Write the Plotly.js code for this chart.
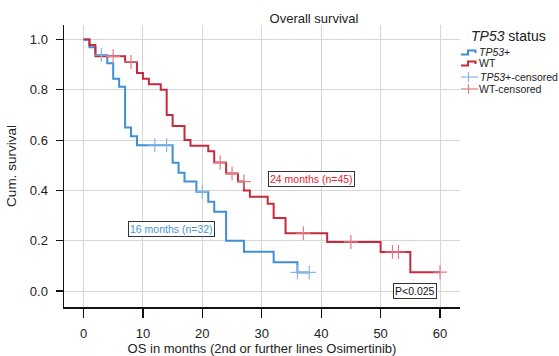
<!DOCTYPE html>
<html>
<head>
<meta charset="utf-8">
<script src="https://cdn.plot.ly/plotly-3.0.1.min.js"></script>
<style>html,body{margin:0;padding:0;background:#fff;}#chart{width:559px;height:356px;}</style>
</head>
<body>
<div id="chart"></div>
<script>
// ---- Data (Kaplan–Meier step curves) ----
const tp53Months   = [0, 1, 2, 4, 5, 6, 7, 8, 9, 15, 16, 17, 19, 21, 22, 24, 27, 32, 36, 38];
const tp53Survival = [1, 0.969, 0.938, 0.906, 0.844, 0.812, 0.65, 0.615, 0.58, 0.51, 0.47, 0.435, 0.395, 0.355, 0.315, 0.2, 0.156, 0.114, 0.074, 0.074];
const tp53CensorMonths   = [3, 12, 14, 20, 36, 38];
const tp53CensorSurvival = [0.938, 0.58, 0.58, 0.395, 0.074, 0.074];

const wtMonths   = [0, 1, 2, 7, 9, 10, 11, 13, 14, 15, 17, 18, 21, 22, 24, 26, 27, 28, 31, 32, 34, 41, 50, 55, 60];
const wtSurvival = [1, 0.978, 0.933, 0.911, 0.867, 0.844, 0.822, 0.8, 0.7, 0.656, 0.6, 0.578, 0.556, 0.511, 0.467, 0.435, 0.40, 0.375, 0.347, 0.29, 0.23, 0.195, 0.155, 0.075, 0.075];
const wtCensorMonths   = [5, 8, 23, 25, 27, 37, 45, 52, 53, 60];
const wtCensorSurvival = [0.933, 0.911, 0.511, 0.467, 0.435, 0.23, 0.195, 0.155, 0.155, 0.075];

const xTicks = [0, 10, 20, 30, 40, 50, 60];
const yTicks = [0, 0.2, 0.4, 0.6, 0.8, 1.0];
const yTickText = ['0.0', '0.2', '0.4', '0.6', '0.8', '1.0'];

const medianLabels = ['24 months (n=45)', '16 months (n=32)', 'P<0.025'];
const legendNames = ['<i>TP53</i>+', 'WT', '<i>TP53</i>+-censored', 'WT-censored'];

// ---- Styling ----
const BLUE = '#3f8fd6', RED = '#c62a3c';
const BLUE_L = '#86b7e6', RED_L = '#e07c88';
const FONT = 'Liberation Sans, Arial, Helvetica, sans-serif';

// plot area in pixels: x 64..460, y 25..307
const PL = 64, PR = 460, PT = 25, PB = 307;
const px = x => (x - PL) / (PR - PL);
const py = y => (PB - y) / (PB - PT);

const traces = [
  {x: tp53Months, y: tp53Survival, mode: 'lines', line: {shape: 'hv', color: BLUE, width: 2}, name: legendNames[0], showlegend: false, hoverinfo: 'skip'},
  {x: wtMonths, y: wtSurvival, mode: 'lines', line: {shape: 'hv', color: RED, width: 2}, name: legendNames[1], showlegend: false, hoverinfo: 'skip'},
  {x: tp53CensorMonths, y: tp53CensorSurvival, mode: 'markers', marker: {symbol: 'cross-thin-open', size: 10, color: BLUE_L, line: {color: BLUE_L, width: 1.2}}, name: legendNames[2], showlegend: false, hoverinfo: 'skip'},
  {x: wtCensorMonths, y: wtCensorSurvival, mode: 'markers', marker: {symbol: 'cross-thin-open', size: 10, color: RED_L, line: {color: RED_L, width: 1.2}}, name: legendNames[3], showlegend: false, hoverinfo: 'skip'}
];

// custom compact legend (positions in pixels -> paper)
const legendRows = [52.5, 63.5, 77, 89];
const shapes = [
  {type: 'path', xref: 'paper', yref: 'paper', layer: 'above',
   path: `M${px(461)},${py(54.5)} L${px(468)},${py(54.5)} L${px(468)},${py(50.5)} L${px(475.5)},${py(50.5)} L${px(475.5)},${py(53)}`,
   line: {color: BLUE, width: 2}},
  {type: 'path', xref: 'paper', yref: 'paper', layer: 'above',
   path: `M${px(461)},${py(65.5)} L${px(468)},${py(65.5)} L${px(468)},${py(61.5)} L${px(475.5)},${py(61.5)} L${px(475.5)},${py(64)}`,
   line: {color: RED, width: 2}},
  {type: 'line', xref: 'paper', yref: 'paper', x0: px(461), x1: px(478), y0: py(77), y1: py(77), line: {color: BLUE_L, width: 1.2}},
  {type: 'line', xref: 'paper', yref: 'paper', x0: px(468.5), x1: px(468.5), y0: py(72), y1: py(82), line: {color: BLUE_L, width: 1.2}},
  {type: 'line', xref: 'paper', yref: 'paper', x0: px(461), x1: px(478), y0: py(89), y1: py(89), line: {color: RED_L, width: 1.2}},
  {type: 'line', xref: 'paper', yref: 'paper', x0: px(468.5), x1: px(468.5), y0: py(84), y1: py(94), line: {color: RED_L, width: 1.2}}
];

const annotations = [
  {x: 38.3, y: 0.445, xref: 'x', yref: 'y', text: medianLabels[0], showarrow: false,
   font: {family: FONT, size: 10.5, color: '#e8222e'}, bgcolor: '#fff', bordercolor: '#333', borderwidth: 1, borderpad: 1},
  {x: 14.85, y: 0.247, xref: 'x', yref: 'y', text: medianLabels[1], showarrow: false,
   font: {family: FONT, size: 10.5, color: '#4a94d8'}, bgcolor: '#fff', bordercolor: '#333', borderwidth: 1, borderpad: 1},
  {x: 55.8, y: 0.0, xref: 'x', yref: 'y', text: medianLabels[2], showarrow: false,
   font: {family: FONT, size: 10.5, color: '#111'}, bgcolor: '#fff', bordercolor: '#333', borderwidth: 1, borderpad: 1},
  {x: px(469), y: py(35.5), xref: 'paper', yref: 'paper', xanchor: 'left', yanchor: 'middle', text: '<i>TP53</i> status', showarrow: false,
   font: {family: FONT, size: 14, color: '#222'}}
];
legendNames.forEach((t, i) => annotations.push({
  x: px(477.5), y: py(legendRows[i]), xref: 'paper', yref: 'paper', xanchor: 'left', yanchor: 'middle',
  text: t, showarrow: false, font: {family: FONT, size: 10.5, color: '#222'}
}));

const layout = {
  width: 559, height: 356,
  margin: {l: PL, r: 559 - PR, t: PT, b: 356 - PB, pad: 0},
  paper_bgcolor: '#fff', plot_bgcolor: '#fff',
  font: {family: FONT, size: 13, color: '#222'},
  title: {text: 'Overall survival', x: 314 / 559, xref: 'container', xanchor: 'center', y: 1 - 18 / 356, yref: 'container', yanchor: 'middle',
          font: {family: FONT, size: 13, color: '#222'}},
  xaxis: {range: [-3.28, 63.36], tickvals: xTicks, ticks: 'outside', ticklen: 9, tickwidth: 1.2, tickcolor: '#111',
          showline: true, linecolor: '#111', linewidth: 1.5, showgrid: true, gridcolor: '#d6d6d6', gridwidth: 1, zeroline: false,
          ticklabelstandoff: 5, tickfont: {family: FONT, size: 13, color: '#222'},
          title: {text: 'OS in months (2nd or further lines Osimertinib)', standoff: 12, font: {family: FONT, size: 13, color: '#222'}}},
  yaxis: {range: [-0.0636, 1.0577], tickvals: yTicks, ticktext: yTickText, ticks: 'outside', ticklen: 7, tickwidth: 1.2, tickcolor: '#111',
          showline: true, linecolor: '#111', linewidth: 1.5, showgrid: true, gridcolor: '#d6d6d6', gridwidth: 1, zeroline: false,
          ticklabelstandoff: 5, tickfont: {family: FONT, size: 13, color: '#222'},
          title: {text: 'Cum. survival', standoff: 10, font: {family: FONT, size: 13.5, color: '#222'}}},
  showlegend: false,
  shapes: shapes,
  annotations: annotations
};

Plotly.newPlot('chart', traces, layout, {staticPlot: true, displayModeBar: false});
</script>
</body>
</html>
